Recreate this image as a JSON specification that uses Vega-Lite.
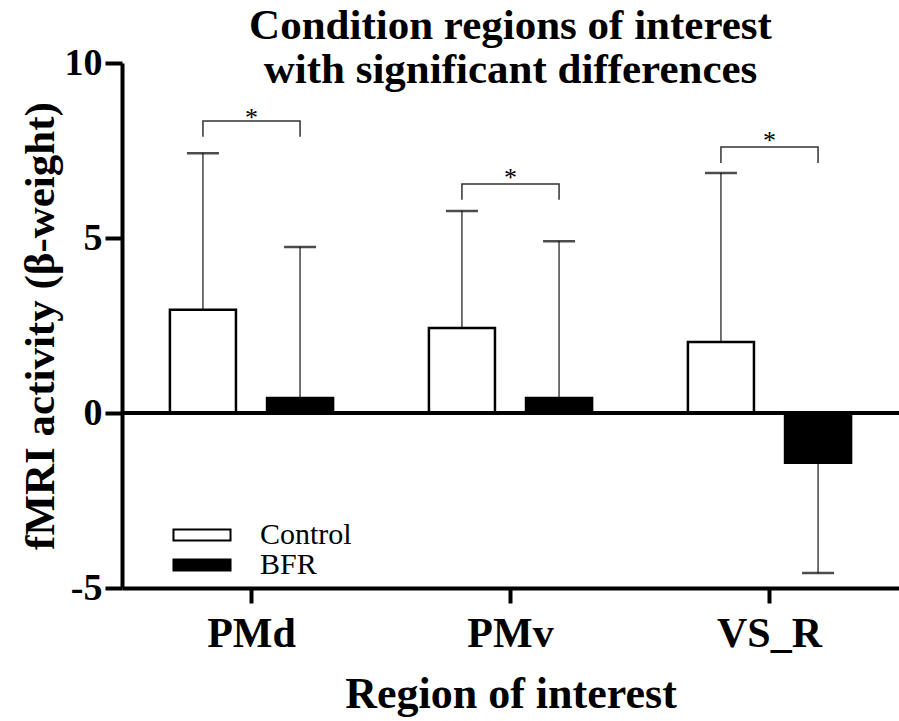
{
  "$schema": "https://vega.github.io/schema/vega-lite/v6.json",
  "width": 777,
  "height": 525,
  "autosize": {"type": "none"},
  "padding": {"left": 122, "top": 63, "right": 0, "bottom": 133},
  "background": "white",
  "title": {
    "text": ["Condition regions of interest", "with significant differences"],
    "font": "Liberation Serif",
    "fontSize": 43,
    "fontWeight": "bold",
    "lineHeight": 44,
    "anchor": "middle",
    "frame": "group",
    "offset": 0,
    "dy": 48,
    "color": "black"
  },
  "config": {
    "view": {"stroke": null},
    "font": "Liberation Serif",
    "axis": {
      "grid": false,
      "domainColor": "black",
      "domainWidth": 4,
      "tickColor": "black",
      "tickWidth": 4,
      "labelColor": "black",
      "titleColor": "black",
      "labelFont": "Liberation Serif",
      "titleFont": "Liberation Serif",
      "labelFontWeight": "bold",
      "titleFontWeight": "bold"
    }
  },
  "data": {
    "values": [
      {"region": "PMd", "group": "Control", "mean": 2.95, "err": 7.42},
      {"region": "PMd", "group": "BFR", "mean": 0.43, "err": 4.74},
      {"region": "PMv", "group": "Control", "mean": 2.43, "err": 5.77},
      {"region": "PMv", "group": "BFR", "mean": 0.43, "err": 4.91},
      {"region": "VS_R", "group": "Control", "mean": 2.03, "err": 6.86},
      {"region": "VS_R", "group": "BFR", "mean": -1.42, "err": -4.57}
    ]
  },
  "layer": [
    {
      "mark": {"type": "rule", "color": "#444", "strokeWidth": 1.5},
      "encoding": {
        "x": {"field": "region", "type": "nominal"},
        "xOffset": {"field": "group", "type": "nominal", "sort": ["Control", "BFR"]},
        "y": {"field": "mean", "type": "quantitative"},
        "y2": {"field": "err"}
      }
    },
    {
      "mark": {"type": "tick", "color": "black", "size": 32, "thickness": 2.5},
      "encoding": {
        "x": {"field": "region", "type": "nominal"},
        "xOffset": {"field": "group", "type": "nominal", "sort": ["Control", "BFR"]},
        "y": {"field": "err", "type": "quantitative"}
      }
    },
    {
      "mark": {"type": "bar", "stroke": "black", "strokeWidth": 2.5},
      "encoding": {
        "x": {
          "field": "region",
          "type": "nominal",
          "sort": ["PMd", "PMv", "VS_R"],
          "scale": {"paddingInner": 0.37, "paddingOuter": 0.185},
          "axis": {
            "title": "Region of interest",
            "labelAngle": 0,
            "labelAlign": "center",
            "labelBaseline": "top",
            "labelFontSize": 42,
            "labelPadding": 10,
            "tickSize": 15,
            "titleFontSize": 44,
            "titlePadding": 18
          }
        },
        "xOffset": {
          "field": "group",
          "type": "nominal",
          "sort": ["Control", "BFR"],
          "scale": {"paddingInner": 0.32, "paddingOuter": 0}
        },
        "y": {
          "field": "mean",
          "type": "quantitative",
          "scale": {"domain": [-5, 10], "nice": false, "zero": false},
          "axis": {
            "title": "fMRI activity (β-weight)",
            "values": [-5, 0, 5, 10],
            "labelExpr": "'' + datum.value",
            "labelFontSize": 38,
            "labelPadding": 3,
            "tickSize": 17,
            "titleFontSize": 43,
            "titlePadding": 2
          }
        },
        "y2": {"datum": 0},
        "fill": {
          "field": "group",
          "type": "nominal",
          "sort": ["Control", "BFR"],
          "scale": {"domain": ["Control", "BFR"], "range": ["white", "black"]},
          "legend": {
            "title": null,
            "orient": "none",
            "legendX": 65,
            "legendY": 457,
            "padding": 0,
            "symbolType": "M-2.48,-0.48L2.48,-0.48L2.48,0.48L-2.48,0.48Z",
            "symbolSize": 529,
            "symbolStrokeColor": "black",
            "symbolStrokeWidth": 2,
            "labelOffset": 43,
            "labelFont": "Liberation Serif",
            "labelFontSize": 30,
            "labelFontWeight": "normal",
            "labelColor": "black",
            "rowPadding": 0
          }
        }
      }
    },
    {
      "mark": {"type": "rule", "color": "black", "strokeWidth": 4},
      "encoding": {"y": {"datum": 0}}
    },
    {
      "data": {
        "values": [
          {"region": "PMd", "group": "Control", "y": 7.89, "k": 1},
          {"region": "PMd", "group": "Control", "y": 8.34, "k": 2},
          {"region": "PMd", "group": "BFR", "y": 8.34, "k": 3},
          {"region": "PMd", "group": "BFR", "y": 7.89, "k": 4},
          {"region": "PMv", "group": "Control", "y": 6.09, "k": 1},
          {"region": "PMv", "group": "Control", "y": 6.54, "k": 2},
          {"region": "PMv", "group": "BFR", "y": 6.54, "k": 3},
          {"region": "PMv", "group": "BFR", "y": 6.09, "k": 4},
          {"region": "VS_R", "group": "Control", "y": 7.14, "k": 1},
          {"region": "VS_R", "group": "Control", "y": 7.6, "k": 2},
          {"region": "VS_R", "group": "BFR", "y": 7.6, "k": 3},
          {"region": "VS_R", "group": "BFR", "y": 7.14, "k": 4}
        ]
      },
      "mark": {"type": "line", "color": "#333", "strokeWidth": 1.5},
      "encoding": {
        "x": {"field": "region", "type": "nominal"},
        "xOffset": {"field": "group", "type": "nominal", "sort": ["Control", "BFR"]},
        "y": {"field": "y", "type": "quantitative"},
        "detail": {"field": "region"},
        "order": {"field": "k", "type": "quantitative"}
      }
    },
    {
      "data": {
        "values": [
          {"region": "PMd", "y": 8.6, "label": "*"},
          {"region": "PMv", "y": 6.86, "label": "*"},
          {"region": "VS_R", "y": 7.94, "label": "*"}
        ]
      },
      "mark": {"type": "text", "font": "Liberation Serif", "fontSize": 26, "baseline": "middle", "align": "center", "dy": 5.5, "color": "black"},
      "encoding": {
        "x": {"field": "region", "type": "nominal"},
        "y": {"field": "y", "type": "quantitative"},
        "text": {"field": "label"}
      }
    }
  ]
}
